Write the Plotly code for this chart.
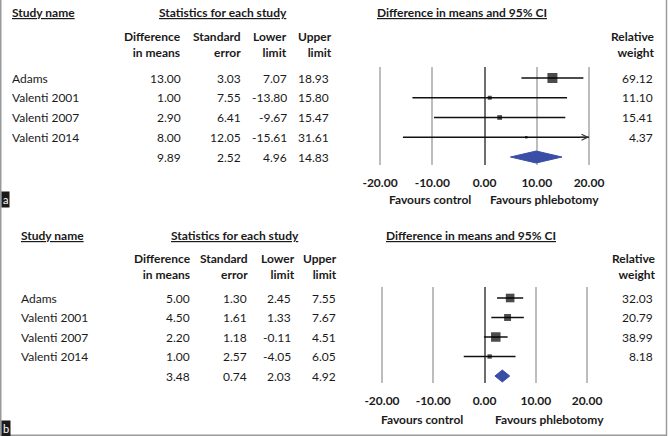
import plotly.graph_objects as go

# ---------------- data ----------------
studies = ["Adams", "Valenti 2001", "Valenti 2007", "Valenti 2014"]

# panel a (last element = pooled summary)
a_diff = [13.00, 1.00, 2.90, 8.00, 9.89]
a_se = [3.03, 7.55, 6.41, 12.05, 2.52]
a_lo = [7.07, -13.80, -9.67, -15.61, 4.96]
a_hi = [18.93, 15.80, 15.47, 31.61, 14.83]
a_w = [69.12, 11.10, 15.41, 4.37]

# panel b
b_diff = [5.00, 4.50, 2.20, 1.00, 3.48]
b_se = [1.30, 1.61, 1.18, 2.57, 0.74]
b_lo = [2.45, 1.33, -0.11, -4.05, 2.03]
b_hi = [7.55, 7.67, 4.51, 6.05, 4.92]
b_w = [32.03, 20.79, 38.99, 8.18]

tick_vals = [-20, -10, 0, 10, 20]
XMIN, XMAX = -20, 20

# ---------------- style ----------------
W, H = 668, 436
FONT = "Lato"
TXT = "#1a1a1a"
FS = 12
BLUE = "#3B4EA6"


def px(x):
    return x / W


def py(y):
    return 1 - y / H


fig = go.Figure()
ann = []


def add_text(text, x, y, anchor="left", bold=False, yref="paper", size=FS, **kw):
    ann.append(dict(
        text=f"<b>{text}</b>" if bold else text,
        x=px(x), y=(py(y) if yref == "paper" else y), xref="paper", yref=yref,
        xanchor=anchor, yanchor="middle", showarrow=False,
        font=dict(family=FONT, size=size, color=TXT), **kw))


panels = [
    dict(diff=a_diff, se=a_se, lo=a_lo, hi=a_hi, w=a_w, xa="x", ya="y", smax=10,
         name_x=10, stat_c=223, ci_c=462,
         col_r=[183, 243, 289, 334], val_r=[183, 243, 289, 331], rw_r=657, wv_r=655,
         fav_c=(430, 544), fav_y=199, tag="a", tag_y=199,
         xdom=(377.4, 591.6), ydom=(67, 165), row0=78, rstep=19.75, hdr_y=44.5, ttl_y=13),
    dict(diff=b_diff, se=b_se, lo=b_lo, hi=b_hi, w=b_w, xa="x2", ya="y2", smax=9.5,
         name_x=19, stat_c=235, ci_c=471,
         col_r=[193, 250, 297, 339], val_r=[192, 249, 293, 338], rw_r=658, wv_r=655,
         fav_c=(422, 549), fav_y=419, tag="b", tag_y=428,
         xdom=(379.4, 589.6), ydom=(287, 383), row0=298, rstep=19.5, hdr_y=266.5, ttl_y=235),
]

for k, p in enumerate(panels):
    n = len(studies)
    yref = p["ya"]
    # CI lines
    xs, ys = [], []
    for i in range(n):
        xs += [max(p["lo"][i], XMIN), min(p["hi"][i], XMAX), None]
        ys += [i, i, None]
    fig.add_trace(go.Scatter(x=xs, y=ys, mode="lines", xaxis=p["xa"], yaxis=p["ya"],
                             line=dict(color="#111111", width=1.5), hoverinfo="skip",
                             showlegend=False))
    # arrows for clipped CIs
    for i in range(n):
        if p["hi"][i] > XMAX:
            ann.append(dict(x=XMAX, y=i, ax=XMAX - 2, ay=i, xref=p["xa"], yref=yref,
                            axref=p["xa"], ayref=yref, text="", showarrow=True,
                            arrowhead=5, arrowsize=1.2, arrowwidth=1, arrowcolor="#333333",
                            standoff=0))
    # squares
    wmax = max(p["w"])
    sizes = [p["smax"] * (wi / wmax) ** 0.5 for wi in p["w"]]
    fig.add_trace(go.Scatter(x=p["diff"][:n], y=list(range(n)), mode="markers",
                             xaxis=p["xa"], yaxis=p["ya"],
                             marker=dict(symbol="square", size=sizes, color="#000000",
                                         line=dict(width=0)),
                             cliponaxis=False, showlegend=False))
    # summary diamond
    h = 6 / p["rstep"]
    d, lo, hi = p["diff"][n], p["lo"][n], p["hi"][n]
    fig.add_trace(go.Scatter(x=[lo, d, hi, d, lo], y=[n, n - h, n, n + h, n],
                             mode="lines", fill="toself", fillcolor=BLUE,
                             line=dict(color=BLUE, width=1), xaxis=p["xa"], yaxis=p["ya"],
                             showlegend=False, hoverinfo="skip"))

    # axes
    xkey = "xaxis" if k == 0 else "xaxis2"
    ykey = "yaxis" if k == 0 else "yaxis2"
    y_top = (p["ydom"][0] - p["row0"]) / p["rstep"]
    y_bot = (p["ydom"][1] - p["row0"]) / p["rstep"]
    fig.layout[xkey] = dict(
        domain=[px(p["xdom"][0]), px(p["xdom"][1])], range=[-20.5, 20.5],
        anchor=p["ya"], tickvals=tick_vals, ticktext=[f"{t:.2f}" for t in tick_vals],
        showgrid=True, gridcolor="#BDBDBD", gridwidth=1.5,
        zeroline=True, zerolinecolor="#6E6E6E", zerolinewidth=1.5,
        showline=False, ticks="", ticklabelstandoff=9, automargin=False,
        tickfont=dict(family=FONT, size=12, color=TXT, weight="bold"),
        fixedrange=True)
    fig.layout[ykey] = dict(
        domain=[py(p["ydom"][1]), py(p["ydom"][0])], range=[y_bot, y_top],
        anchor=p["xa"], showgrid=False, zeroline=False, showticklabels=False,
        showline=False, ticks="", fixedrange=True, automargin=False)

    # titles
    add_text("<u>Study name</u>", p["name_x"], p["ttl_y"], "left", bold=True)
    add_text("<u>Statistics for each study</u>", p["stat_c"], p["ttl_y"], "center", bold=True)
    add_text("<u>Difference in means and 95% CI</u>", p["ci_c"], p["ttl_y"], "center", bold=True)
    heads = ["Difference<br>in means", "Standard<br>error", "Lower<br>limit", "Upper<br>limit"]
    for hx, ht in zip(p["col_r"], heads):
        add_text(ht, hx, p["hdr_y"], "right", bold=True, align="right")
    add_text("Relative<br>weight", p["rw_r"], p["hdr_y"], "right", bold=True, align="right")

    # table rows
    cols = [p["diff"], p["se"], p["lo"], p["hi"]]
    for i in range(n + 1):
        if i < n:
            add_text(studies[i], p["name_x"], i, "left", yref=yref)
            add_text(f"{p['w'][i]:.2f}", p["wv_r"], i, "right", yref=yref)
        for cx, col in zip(p["val_r"], cols):
            add_text(f"{col[i]:.2f}", cx, i, "right", yref=yref)

    # favours labels
    add_text("Favours control", p["fav_c"][0], p["fav_y"], "center", bold=True)
    add_text("Favours phlebotomy", p["fav_c"][1], p["fav_y"], "center", bold=True)

    # panel tag
    ann.append(dict(text=p["tag"], x=px(0.5), y=py(p["tag_y"]), xref="paper", yref="paper",
                    xanchor="left", yanchor="middle", showarrow=False,
                    bgcolor="#1a1a1a", borderpad=1,
                    font=dict(family=FONT, size=11, color="#ffffff")))

# border
shapes = [
    dict(type="line", xref="paper", yref="paper", x0=px(0.75), x1=px(0.75), y0=0, y1=1,
         line=dict(color="#9A9A9A", width=1.5)),
    dict(type="line", xref="paper", yref="paper", x0=px(666.5), x1=px(666.5), y0=0, y1=1,
         line=dict(color="#9A9A9A", width=1.5)),
    dict(type="line", xref="paper", yref="paper", x0=0, x1=px(667), y0=py(435.3), y1=py(435.3),
         line=dict(color="#9A9A9A", width=1.5)),
]

fig.update_layout(
    width=W, height=H, margin=dict(l=0, r=0, t=0, b=0, pad=0, autoexpand=False),
    paper_bgcolor="white", plot_bgcolor="white",
    annotations=ann, shapes=shapes, showlegend=False,
    font=dict(family=FONT, size=FS, color=TXT),
)

fig.write_html(
    "out.html",
    config={"displayModeBar": False},
    post_script="document.body.style.margin='0';document.body.style.overflow='hidden';",
)
